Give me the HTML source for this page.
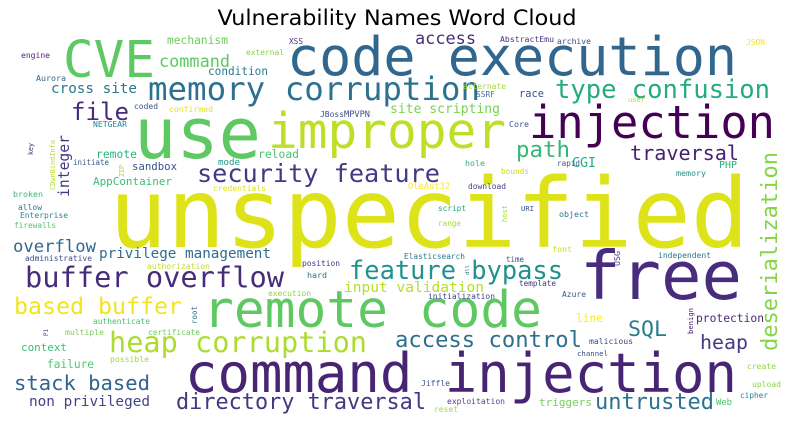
<!DOCTYPE html>
<html><head><meta charset="utf-8">
<style>
html,body{margin:0;padding:0;background:#fff;}
svg{display:block;}
</style></head>
<body>
<svg id="cloud" width="790" height="429" viewBox="0 0 790 429" xmlns="http://www.w3.org/2000/svg">
<rect width="790" height="429" fill="#fff"/>
<text x="397" y="25" text-anchor="middle" textLength="359" lengthAdjust="spacingAndGlyphs" font-family="'DejaVu Sans','Liberation Sans',sans-serif" font-size="21" fill="#000">Vulnerability Names Word Cloud</text>
<g id="words" font-family="'DejaVu Sans Mono','Liberation Mono',monospace"></g>
</svg>
<script>
const words = ["unspecified","use","improper","code execution","CVE","injection","free","remote code","command injection","memory corruption","type confusion","buffer overflow","heap corruption","based buffer","feature bypass","security feature","access control","stack based","untrusted","directory traversal","path","traversal","SQL","heap","file","cross site","site scripting","command","access","overflow","integer","privilege management","input validation","non privileged","deserialization","mechanism","condition","AppContainer","sandbox","reload","remote","CGI","protection","line","triggers","context","failure","race","XSS","external","AbstractEmu","archive","JSON","engine","Aurora","coded","confirmed","alternate","SSRF","user","JBoss","MPVPN","NETGEAR","Core","initiate","mode","credentials","hole","rapid","PHP","bounds","memory","OleAut32","download","broken","allow","Enterprise","firewalls","script","URI","object","range","administrative","authorization","position","hard","Elasticsearch","font","time","independent","template","execution","initialization","Azure","authenticate","multiple","certificate","malicious","possible","channel","create","Jiffle","upload","exploitation","cipher","Web","reset","CDwnBindInfo","key","ZIP","host","USG","dll","root","P1","benign"];
const xs = [109,134,268,287,63,529,580,203,185,148,555,25,109,14,349,197,395,14,595,176,516,630,628,700,71,51,390,159,415,13,69,99,344,29,777,167,208,93,132,258,96,572,696,576,539,21,47,519,289,246,500,557,746,21,36,134,169,463,476,628,320,344,93,509,73,218,213,465,557,719,501,676,408,468,13,18,20,14,438,521,559,438,25,147,302,307,404,552,506,658,519,268,428,562,93,65,148,589,110,577,747,421,752,447,740,716,434,55,33,124,507,620,469,197,48,693];
const ys = [247,158,148,75,77,138,299,327,392,100,98,287,352,314,279,182,347,390,409,409,157,160,336,349,120,93,113,67,44,252,197,258,292,406,351,44,75,185,170,158,158,167,322,322,406,351,368,97,44,55,42,44,45,58,81,109,112,89,97,102,117,117,127,127,165,165,191,166,166,168,174,176,189,189,197,210,218,228,211,211,217,226,261,269,266,278,259,252,262,258,286,296,299,297,324,335,335,344,362,356,369,386,387,404,398,405,412,190,155,177,222,266,275,324,336,334];
const lens = [640,127,238,450,92,246,162,339,552,332,215,259,258,168,214,243,187,136,119,250,54,109,39,48,58,86,110,71,61,83,62,172,140,121,199,61,60,79,45,41,41,24,68,27,53,46,47,25,14,38,54,34,19,29,30,24,44,43,19,17,24,26,34,20,36,22,53,20,23,18,28,30,42,38,30,24,48,42,28,13,30,23,67,63,38,20,61,20,18,53,37,43,67,24,57,39,52,44,39,31,29,29,29,58,28,16,24,50,12,12,17,15,10,18,7,26];
const colors = ["#dde318","#5ec962","#bddf26","#31678e","#5ec962","#440154","#472d7b","#5ec962","#482475","#2c728e","#25ab82","#472c7a","#addc30","#f1e51d","#21918c","#443983","#2e6f8e","#33638d","#2c718e","#453882","#35b779","#482071","#287c8e","#443a83","#472c7a","#2a788e","#7ad151","#5ec962","#472d7b","#31678e","#453781","#2e6e8e","#b5de2b","#414487","#86d549","#6ccd5a","#2a788e","#3dbc74","#3b528b","#4ac16d","#2fb47c","#26ad81","#482878","#fde725","#75d054","#3fbc73","#54c568","#3b528b","#46337f","#86d549","#46337f","#3e4989","#f6e620","#482677","#31688e","#3b528b","#e2e418","#a2da37","#4c6c9c","#b8de29","#3d4d8a","#3d4d8a","#25858e","#39568c","#375a8c","#1f998a","#dfe318","#2ab07f","#355f8d","#2db27d","#c8e020","#21918c","#fde725","#414487","#3aba76","#29798e","#23898e","#52c569","#21a685","#3b528b","#2c728e","#a8db34","#3e4989","#c0df25","#46337f","#2e6e8e","#29798e","#cae11f","#3e4a89","#2a788e","#46337f","#90d743","#404688","#375a8c","#4ac16d","#7ad151","#6ccd5a","#3e4a89","#a2da37","#3e4989","#90d743","#3b528b","#8fd744","#5d3e8c","#26818e","#4ac16d","#9fda3a","#b5de2b","#482475","#a0da39","#9fda3a","#433e85","#2b748e","#2c718e","#3b528b","#482173"];
const vertical = [0,0,0,0,0,0,0,0,0,0,0,0,0,0,0,0,0,0,0,0,0,0,0,0,0,0,0,0,0,0,1,0,0,0,1,0,0,0,0,0,0,0,0,0,0,0,0,0,0,0,0,0,0,0,0,0,0,0,0,0,0,0,0,0,0,0,0,0,0,0,0,0,0,0,0,0,0,0,0,0,0,0,0,0,0,0,0,0,0,0,0,0,0,0,0,0,0,0,0,0,0,0,0,0,0,0,0,1,1,1,1,1,1,1,1,1];

const g = document.getElementById('words');
const NS = 'http://www.w3.org/2000/svg';
words.forEach((w, i) => {
  const t = document.createElementNS(NS, 'text');
  t.textContent = w;
  const fs = lens[i] / (0.602 * w.length);
  t.setAttribute('font-size', fs.toFixed(2));
  t.setAttribute('fill', colors[i]);
  t.setAttribute('textLength', lens[i]);
  t.setAttribute('lengthAdjust', 'spacingAndGlyphs');
  if (vertical[i]) {
    t.setAttribute('x', 0);
    t.setAttribute('y', 0);
    t.setAttribute('transform', 'translate(' + xs[i] + ',' + ys[i] + ') rotate(-90)');
  } else {
    t.setAttribute('x', xs[i]);
    t.setAttribute('y', ys[i]);
  }
  
  
  g.appendChild(t);
});
</script>
</body></html>
